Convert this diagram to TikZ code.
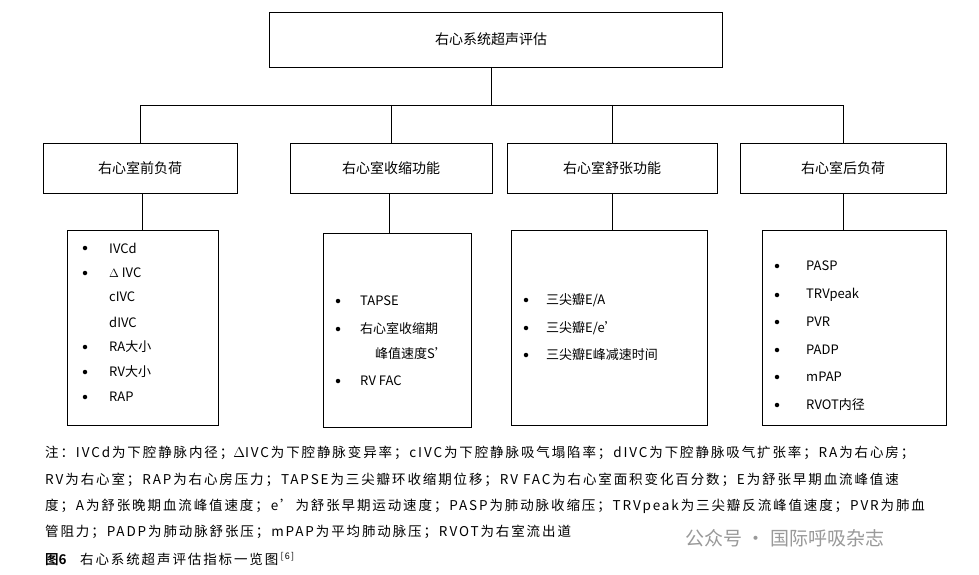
\documentclass[tikz,border=0pt]{standalone}
\usepackage{fontspec}
\setmainfont{Noto Sans CJK SC}
\newfontfamily\cjkb{Noto Sans CJK SC Bold}
\newfontfamily\notefont[LetterSpace=14]{Noto Sans CJK SC}
\begin{document}
\begin{tikzpicture}[x=1pt,y=-1pt,
    box/.style={draw,thick,inner sep=0pt},
    item/.style={anchor=west,font=\fontsize{13}{15}\selectfont,inner sep=0pt},
    dot/.style={circle,fill,inner sep=0pt,minimum size=4.5pt},
    note/.style={anchor=west,font=\notefont\fontsize{13.5}{15}\selectfont,inner sep=0pt}]
    \useasboundingbox[fill=white](0,0)rectangle(979,575);
    % boxes
    \draw[thick](269,12)rectangle(722,67);
    \node(top)at(491,39.5){\fontsize{14}{16}\selectfont 右心系统超声评估};
    \draw[thick](43,143)rectangle(237,193)node[midway]{\fontsize{14}{16}\selectfont 右心室前负荷};
    \draw[thick](290,143)rectangle(492,193)node[midway]{\fontsize{14}{16}\selectfont 右心室收缩功能};
    \draw[thick](507,143)rectangle(717,193)node[midway]{\fontsize{14}{16}\selectfont 右心室舒张功能};
    \draw[thick](740,143)rectangle(946,193)node[midway]{\fontsize{14}{16}\selectfont 右心室后负荷};
    \draw[thick](67,230)rectangle(218,425);
    \draw[thick](323,233)rectangle(471,427);
    \draw[thick](511,230)rectangle(707,425);
    \draw[thick](762,230)rectangle(946,425);
    % connectors
    \draw[thick](491,67)--(491,105);
    \draw[thick](140,143)--(140,105)--(843,105)--(843,143);
    \draw[thick](391,105)--(391,143);
    \draw[thick](612,105)--(612,143);
    \draw[thick](142,193)--(142,230);
    \draw[thick](389,193)--(389,233);
    \draw[thick](612,193)--(612,230);
    \draw[thick](843,193)--(843,230);
    % lists
    \foreach \y/\t/\b in {248/IVCd/1,273/$\Delta$ IVC/1,297/cIVC/0,322/dIVC/0,347/RA大小/1,372/RV大小/1,397/RAP/1}{
        \node[item]at(109,\y){\t};
        \ifnum\b=1 \node[dot]at(85,\y){};\fi
    }
    \foreach \y/\t in {301/TAPSE,329/右心室收缩期,381/RV FAC}{
        \node[item]at(360,\y){\t};
        \node[dot]at(338,\y){};
    }
    \node[item]at(375,354){峰值速度S’};
    \foreach \y/\t in {300/{三尖瓣E/A},328/{三尖瓣E/e’},355/{三尖瓣E峰减速时间}}{
        \node[item]at(546,\y){\t};
        \node[dot]at(526,\y){};
    }
    \foreach \y/\t in {266/PASP,295/TRVpeak,322/PVR,350/PADP,377/mPAP,405/RVOT内径}{
        \node[item]at(806,\y){\t};
        \node[dot]at(777,\y){};
    }
    % note
    \node[note]at(45,453){注：IVCd为下腔静脉内径；$\Delta$IVC为下腔静脉变异率；cIVC为下腔静脉吸气塌陷率；dIVC为下腔静脉吸气扩张率；RA为右心房；};
    \node[note]at(45,480){RV为右心室；RAP为右心房压力；TAPSE为三尖瓣环收缩期位移；RV FAC为右心室面积变化百分数；E为舒张早期血流峰值速};
    \node[note]at(45,506){度；A为舒张晚期血流峰值速度；e’为舒张早期运动速度；PASP为肺动脉收缩压；TRVpeak为三尖瓣反流峰值速度；PVR为肺血};
    \node[note]at(45,532){管阻力；PADP为肺动脉舒张压；mPAP为平均肺动脉压；RVOT为右室流出道};
    \node[note]at(45,559){{\cjkb 图6}\quad 右心系统超声评估指标一览图\,\raisebox{5pt}{\fontsize{9}{10}\selectfont [6]}};
    \node[anchor=west,text=black!40,font=\fontsize{19}{22}\selectfont]at(682,538){公众号 · 国际呼吸杂志};
\end{tikzpicture}
\end{document}
